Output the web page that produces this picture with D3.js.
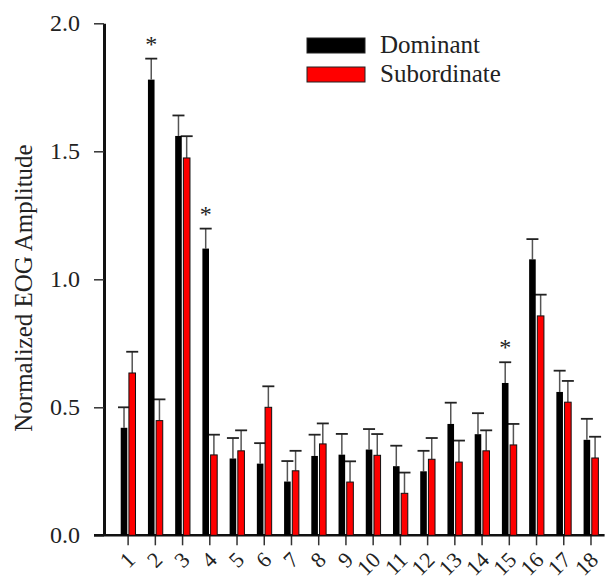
<!DOCTYPE html>
<html>
<head>
<meta charset="utf-8">
<script src="https://cdn.jsdelivr.net/npm/d3@7"></script>
<style>
  body { margin: 0; background: #fff; }
  svg { display: block; font-family: "Liberation Serif", "Times New Roman", serif; }
  svg text { font-family: "Liberation Serif", "Times New Roman", serif; }
  .axis text { font-size: 24px; fill: #222; }
</style>
</head>
<body>
<div id="chart"></div>
<script>
// categories and series values (mean, error)
const categories = ["1","2","3","4","5","6","7","8","9","10","11","12","13","14","15","16","17","18"];
const dominant = [0.42, 1.78, 1.56, 1.12, 0.30, 0.28, 0.21, 0.31, 0.315, 0.335, 0.27, 0.25, 0.435, 0.395, 0.595, 1.078, 0.56, 0.373];
const dominantErr = [0.08, 0.082, 0.08, 0.078, 0.08, 0.08, 0.08, 0.083, 0.081, 0.08, 0.08, 0.08, 0.083, 0.082, 0.081, 0.079, 0.083, 0.082];
const subordinate = [0.634, 0.448, 1.474, 0.314, 0.33, 0.50, 0.252, 0.357, 0.208, 0.3125, 0.164, 0.297, 0.286, 0.33, 0.353, 0.857, 0.52, 0.302];
const subordinateErr = [0.083, 0.083, 0.085, 0.079, 0.08, 0.082, 0.078, 0.08, 0.081, 0.083, 0.081, 0.083, 0.084, 0.08, 0.082, 0.083, 0.083, 0.083];
const significant = ["2", "4", "15"];
const yTicks = [0, 0.5, 1.0, 1.5, 2.0];
const seriesNames = ["Dominant", "Subordinate"];
const seriesColors = ["#000000", "#ff0000"];

const W = 608, H = 581;
const margin = { top: 23.3, right: 3.4, bottom: 45.7, left: 104 };
const width = W - margin.left - margin.right;
const height = H - margin.top - margin.bottom;

const svg = d3.select("#chart").append("svg")
  .attr("width", W)
  .attr("height", H);

const chart = svg.append("g")
  .attr("transform", `translate(${margin.left},${margin.top})`);

// scales
const x = d3.scaleBand().domain(categories).range([10.5, width]).padding(0);
const y = d3.scaleLinear().domain([0, 2]).range([height, 0]);

const barW = 6.6;
const gap = 0.8;

// y axis
const tickLen = 10;
const yAxisG = chart.append("g")
  .attr("class", "axis y")
  .call(d3.axisLeft(y).tickValues(yTicks).tickFormat(d3.format(".1f")).tickSize(tickLen).tickSizeOuter(0).tickPadding(14))
  .attr("font-family", null)
  .attr("font-size", null);
yAxisG.select(".domain").attr("stroke", "#111").attr("stroke-width", 3);
yAxisG.selectAll(".tick line").attr("stroke", "#333").attr("stroke-width", 1.5);

// x axis baseline + ticks
const xAxisG = chart.append("g")
  .attr("class", "axis x")
  .attr("transform", `translate(0,${height})`)
  .call(d3.axisBottom(x).tickSize(10).tickSizeOuter(0).tickFormat(""))
  .attr("font-family", null)
  .attr("font-size", null);
xAxisG.select(".domain").remove();
xAxisG.selectAll(".tick line").attr("stroke", "#333").attr("stroke-width", 1.5);
xAxisG.append("line")
  .attr("x1", -tickLen)
  .attr("x2", x.range()[1])
  .attr("stroke", "#111")
  .attr("stroke-width", 2.5);

// rotated x labels
xAxisG.selectAll(".tick")
  .append("text")
  .attr("transform", "translate(8.5,26) rotate(-45)")
  .attr("text-anchor", "end")
  .attr("fill", "#222")
  .style("font-size", "22px")
  .text(d => d);

// bars
const rows = categories.map((c, i) => ({
  name: c,
  vals: [
    { s: 0, v: dominant[i], e: dominantErr[i] },
    { s: 1, v: subordinate[i], e: subordinateErr[i] }
  ]
}));

const groups = chart.append("g").selectAll("g")
  .data(rows)
  .enter()
  .append("g")
  .attr("transform", d => `translate(${x(d.name) + x.bandwidth() / 2},0)`);

const barX = s => (s === 0 ? -barW - gap : gap);

// error bars (drawn under bars)
groups.selectAll(".err")
  .data(d => d.vals)
  .enter()
  .append("g")
  .attr("class", "err")
  .each(function(d) {
    const g = d3.select(this);
    const cx = barX(d.s) + barW / 2;
    g.append("line")
      .attr("x1", cx).attr("x2", cx)
      .attr("y1", y(d.v)).attr("y2", y(d.v + d.e))
      .attr("stroke", "#555").attr("stroke-width", 1.5);
    g.append("line")
      .attr("x1", cx - 6).attr("x2", cx + 6)
      .attr("y1", y(d.v + d.e)).attr("y2", y(d.v + d.e))
      .attr("stroke", "#222").attr("stroke-width", 1.8);
  });

groups.selectAll("rect")
  .data(d => d.vals)
  .enter()
  .append("rect")
  .attr("x", d => barX(d.s))
  .attr("width", barW)
  .attr("y", d => y(d.v))
  .attr("height", d => y(0) - y(d.v))
  .attr("fill", d => seriesColors[d.s])
  .attr("stroke", "#111")
  .attr("stroke-width", d => (d.s === 1 ? 1 : 0));

// significance stars
groups.filter(d => significant.includes(d.name))
  .append("text")
  .attr("x", -barW / 2 - gap)
  .attr("y", d => y(d.vals[0].v + d.vals[0].e) - 7)
  .attr("text-anchor", "middle")
  .attr("fill", "#222")
  .style("font-size", "24px")
  .text("*");

// y axis label
chart.append("text")
  .attr("transform", `translate(${23 - margin.left},${288 - margin.top}) rotate(-90)`)
  .attr("text-anchor", "middle")
  .attr("dy", "0.35em")
  .attr("fill", "#222")
  .style("font-size", "25px")
  .text("Normalized EOG Amplitude");

// legend
const legend = svg.append("g")
  .attr("transform", "translate(307,38)");
const li = legend.selectAll("g")
  .data(seriesNames)
  .enter()
  .append("g")
  .attr("transform", (d, i) => `translate(0,${i * 29})`);
li.append("rect")
  .attr("width", 58)
  .attr("height", 15)
  .attr("fill", (d, i) => seriesColors[i])
  .attr("stroke", "#222")
  .attr("stroke-width", 1);
li.append("text")
  .attr("x", 73)
  .attr("y", 15)
  .attr("fill", "#222")
  .style("font-size", "25px")
  .text(d => d);
</script>
</body>
</html>
